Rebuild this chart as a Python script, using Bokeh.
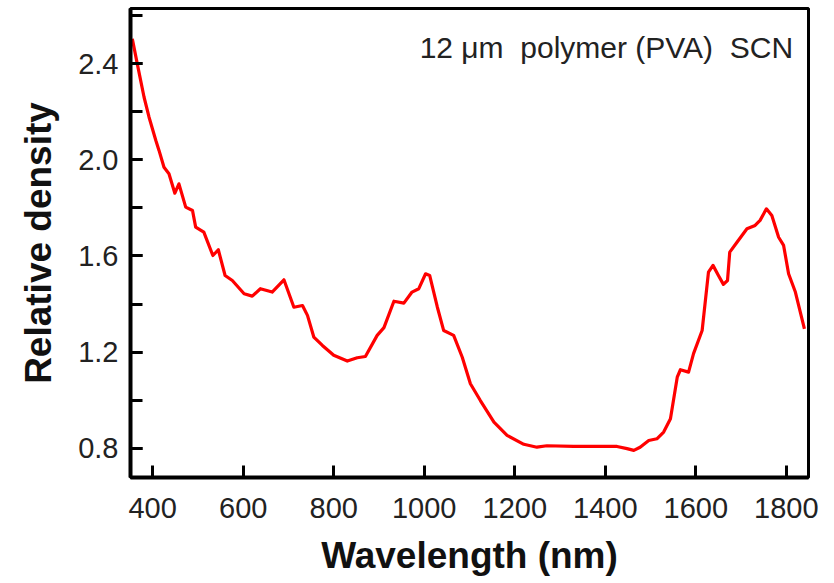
from bokeh.plotting import figure
from bokeh.models import Range1d, FixedTicker, Label, PrintfTickFormatter
from bokeh.embed import file_html
from bokeh.resources import INLINE

# ---- data ----
wavelength_nm = [355, 366, 381, 392, 407, 414, 425, 436, 449, 458, 473, 488, 495, 513,
                 533, 545, 560, 576, 602, 620, 638, 664, 690, 712, 731, 742, 756, 775,
                 800, 830, 852, 870, 896, 911, 933, 955, 973, 988, 1003, 1012, 1029,
                 1043, 1065, 1084, 1102, 1124, 1154, 1183, 1220, 1249, 1271, 1330, 1426,
                 1448, 1463, 1477, 1496, 1514, 1529, 1544, 1559, 1566, 1584, 1595, 1614,
                 1628, 1638, 1650, 1661, 1670, 1675, 1691, 1713, 1731, 1742, 1756, 1768,
                 1783, 1794, 1805, 1820, 1840]
relative_density = [2.503, 2.399, 2.260, 2.177, 2.080, 2.039, 1.969, 1.942, 1.861, 1.900,
                    1.803, 1.789, 1.720, 1.699, 1.602, 1.626, 1.519, 1.498, 1.443, 1.433,
                    1.464, 1.450, 1.501, 1.387, 1.394, 1.353, 1.263, 1.228, 1.187, 1.163,
                    1.177, 1.182, 1.270, 1.302, 1.412, 1.404, 1.450, 1.464, 1.526, 1.519,
                    1.387, 1.290, 1.270, 1.179, 1.069, 0.999, 0.909, 0.854, 0.817, 0.805,
                    0.811, 0.808, 0.808, 0.799, 0.792, 0.805, 0.833, 0.840, 0.868, 0.923,
                    1.096, 1.127, 1.117, 1.194, 1.290, 1.533, 1.561, 1.519, 1.482, 1.498,
                    1.616, 1.657, 1.713, 1.727, 1.748, 1.796, 1.768, 1.678, 1.644, 1.526,
                    1.450, 1.297]
x_ticks = [400, 600, 800, 1000, 1200, 1400, 1600, 1800]
y_ticks = [0.8, 1.2, 1.6, 2.0, 2.4]
y_minor_ticks = [0.8, 1.0, 1.2, 1.4, 1.6, 1.8, 2.0, 2.2, 2.4, 2.6]
x_label = "Wavelength (nm)"
y_label = "Relative density"
annotation = "12 \u03bcm \u00a0polymer (PVA) \u00a0SCN"

FONT = "Liberation Sans"

p = figure(width=834, height=583, output_backend="svg", toolbar_location=None,
           x_range=Range1d(351, 1849), y_range=Range1d(0.679, 2.629),
           min_border_left=130, min_border_right=26, min_border_top=8,
           min_border_bottom=106)
p.background_fill_color = "white"
p.border_fill_color = "white"
p.xgrid.visible = False
p.ygrid.visible = False
p.outline_line_color = "black"
p.outline_line_width = 3

p.line(wavelength_nm, relative_density, line_color="#ff0000", line_width=3.2,
       line_join="round")

for ax in (p.xaxis[0], p.yaxis[0]):
    ax.axis_line_width = 4
    ax.axis_line_color = "black"
    ax.major_tick_line_width = 3
    ax.minor_tick_line_width = 3
    ax.major_tick_in = 12
    ax.major_tick_out = 0
    ax.minor_tick_out = 0
    ax.major_label_text_font = FONT
    ax.major_label_text_font_size = "29px"
    ax.major_label_text_color = "#222222"
    ax.axis_label_text_font = FONT
    ax.axis_label_text_font_style = "bold"
    ax.axis_label_text_font_size = "37px"
    ax.axis_label_text_color = "#111111"

p.xaxis.ticker = FixedTicker(ticks=x_ticks, minor_ticks=[])
p.xaxis.minor_tick_in = 0
p.xaxis.major_label_standoff = 20
p.xaxis.axis_label = x_label
p.xaxis.axis_label_standoff = 14

p.yaxis.ticker = FixedTicker(ticks=y_ticks, minor_ticks=y_minor_ticks)
p.yaxis.formatter = PrintfTickFormatter(format="%.1f")
p.yaxis.minor_tick_in = 12
p.yaxis.major_label_standoff = 12
p.yaxis.axis_label = y_label
p.yaxis.axis_label_standoff = 16

p.add_layout(Label(x=1815, y=2.466, text=annotation, text_align="right",
                   text_baseline="alphabetic", text_font=FONT,
                   text_font_size="30px", text_color="#222222"))

open("out.html", "w").write(file_html(p, INLINE))
